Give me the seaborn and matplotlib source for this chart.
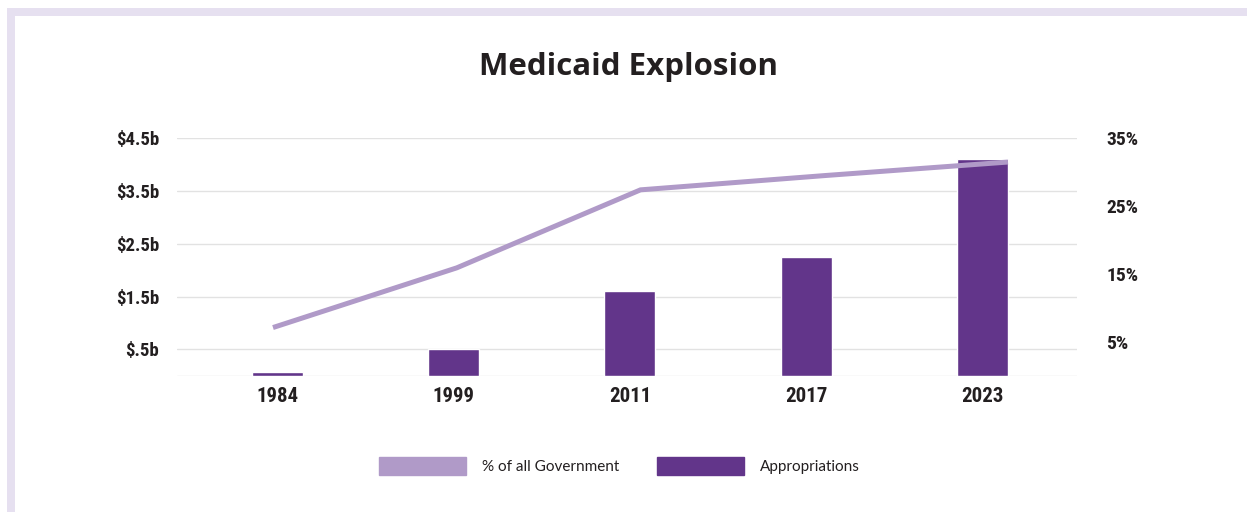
import matplotlib
matplotlib.use("Agg")
import matplotlib.pyplot as plt
import matplotlib.patches as mpatches
from matplotlib import font_manager
import seaborn as sns
import pandas as pd
import numpy as np

# ---- data ----
years = ["1984", "1999", "2011", "2017", "2023"]
appropriations_b = [0.07, 0.51, 1.60, 2.25, 4.10]      # $ billions
pct_of_government = [7.1, 15.9, 27.4, 29.5, 31.5]      # percent
left_ticks = [0, 0.5, 1.5, 2.5, 3.5, 4.5]
left_labels = ["", r"\$.5b", r"\$1.5b", r"\$2.5b", r"\$3.5b", r"\$4.5b"]
right_ticks = [5, 15, 25, 35]
right_labels = ["5%", "15%", "25%", "35%"]
title = "Medicaid Explosion"
legend_labels = ["% of all Government", "Appropriations"]

BAR_COLOR = "#62358A"
LINE_COLOR = "#B09AC8"
GRID_COLOR = "#E2E2E2"
TEXT_COLOR = "#231F20"
FRAME_COLOR = "#E6E0F0"

sns.set_theme(style="white")
plt.rcParams["font.family"] = ["Lato", "DejaVu Sans"]

available = {f.name for f in font_manager.fontManager.ttflist}
cond = [f for f in ["Liberation Sans Narrow", "DejaVu Sans Condensed", "Roboto Condensed", "Roboto"]
        if f in available] + ["DejaVu Sans"]
cond = cond[:1] + ["DejaVu Sans"]

W, H = 1247, 512
fig = plt.figure(figsize=(W / 100, H / 100), dpi=100, facecolor="white")

# frame border
frame = mpatches.Rectangle((11 / W, (H - 514) / H), (W + 4 - 11) / W, (514 - 12) / H,
                           transform=fig.transFigure, fill=False,
                           edgecolor=FRAME_COLOR, linewidth=8 * 0.72, clip_on=False)
fig.patches.append(frame)

left, right = 177, 1077
top, bottom = 138.3, 375.7
pos = [left / W, 1 - bottom / H, (right - left) / W, (bottom - top) / H]

ax = fig.add_axes(pos)
df = pd.DataFrame({"year": years, "value": appropriations_b})
sns.barplot(data=df, x="year", y="value", color=BAR_COLOR, width=0.289,
            saturation=1, ax=ax, zorder=2)
ax.set_xlim(-0.570, 4.537)
ax.set_ylim(0, 4.5)
ax.set_yticks(left_ticks)
ax.set_yticklabels(left_labels)
ax.yaxis.grid(True, color=GRID_COLOR, linewidth=1.0)
ax.set_axisbelow(True)
ax.set_xlabel("")
ax.set_ylabel("")
for s in ax.spines.values():
    s.set_visible(False)
ax.tick_params(axis="y", length=0, pad=13)
ax.tick_params(axis="x", length=0, pad=8)
for lbl in ax.get_yticklabels():
    lbl.set_fontfamily(cond)
    lbl.set_fontweight("bold")
    lbl.set_fontsize(13.5)
    lbl.set_color(TEXT_COLOR)
for lbl in ax.get_xticklabels():
    lbl.set_fontfamily(cond)
    lbl.set_fontweight("bold")
    lbl.set_fontsize(15)
    lbl.set_color(TEXT_COLOR)

# line on its own overlay axes (percent scale, right axis)
ax2 = fig.add_axes(pos, facecolor="none")
ldf = pd.DataFrame({"i": np.arange(len(years)), "pct": pct_of_government})
sns.lineplot(data=ldf, x="i", y="pct", color=LINE_COLOR, linewidth=3.6, ax=ax2,
             solid_capstyle="butt", solid_joinstyle="miter")
ax2.set_xlim(-0.5224, 4.3755)
ax2.set_ylim(0, 35)
ax2.set_xticks([])
ax2.yaxis.tick_right()
ax2.set_yticks(right_ticks)
ax2.set_yticklabels(right_labels)
ax2.tick_params(axis="y", length=0, pad=21)
ax2.set_xlabel("")
ax2.set_ylabel("")
for s in ax2.spines.values():
    s.set_visible(False)
for lbl in ax2.get_yticklabels():
    lbl.set_fontfamily(cond)
    lbl.set_fontweight("bold")
    lbl.set_fontsize(14)
    lbl.set_color(TEXT_COLOR)

fig.text(628 / W, 1 - 67 / H, title, ha="center", va="center",
         fontsize=22.5, fontweight="bold", color=TEXT_COLOR,
         family=["Open Sans", "DejaVu Sans"])

handles = [mpatches.Patch(color=LINE_COLOR), mpatches.Patch(color=BAR_COLOR)]
fig.legend(handles, legend_labels, loc="center", bbox_to_anchor=(619.5 / W, 1 - 466 / H),
           ncol=2, frameon=False, handlelength=5.65, handleheight=1.37,
           handletextpad=1.05, columnspacing=2.5, borderpad=0,
           prop={"family": ["Lato", "DejaVu Sans"], "size": 11})
for t in fig.legends[0].get_texts():
    t.set_color(TEXT_COLOR)

fig.savefig("out.png", dpi=100, facecolor="white")
